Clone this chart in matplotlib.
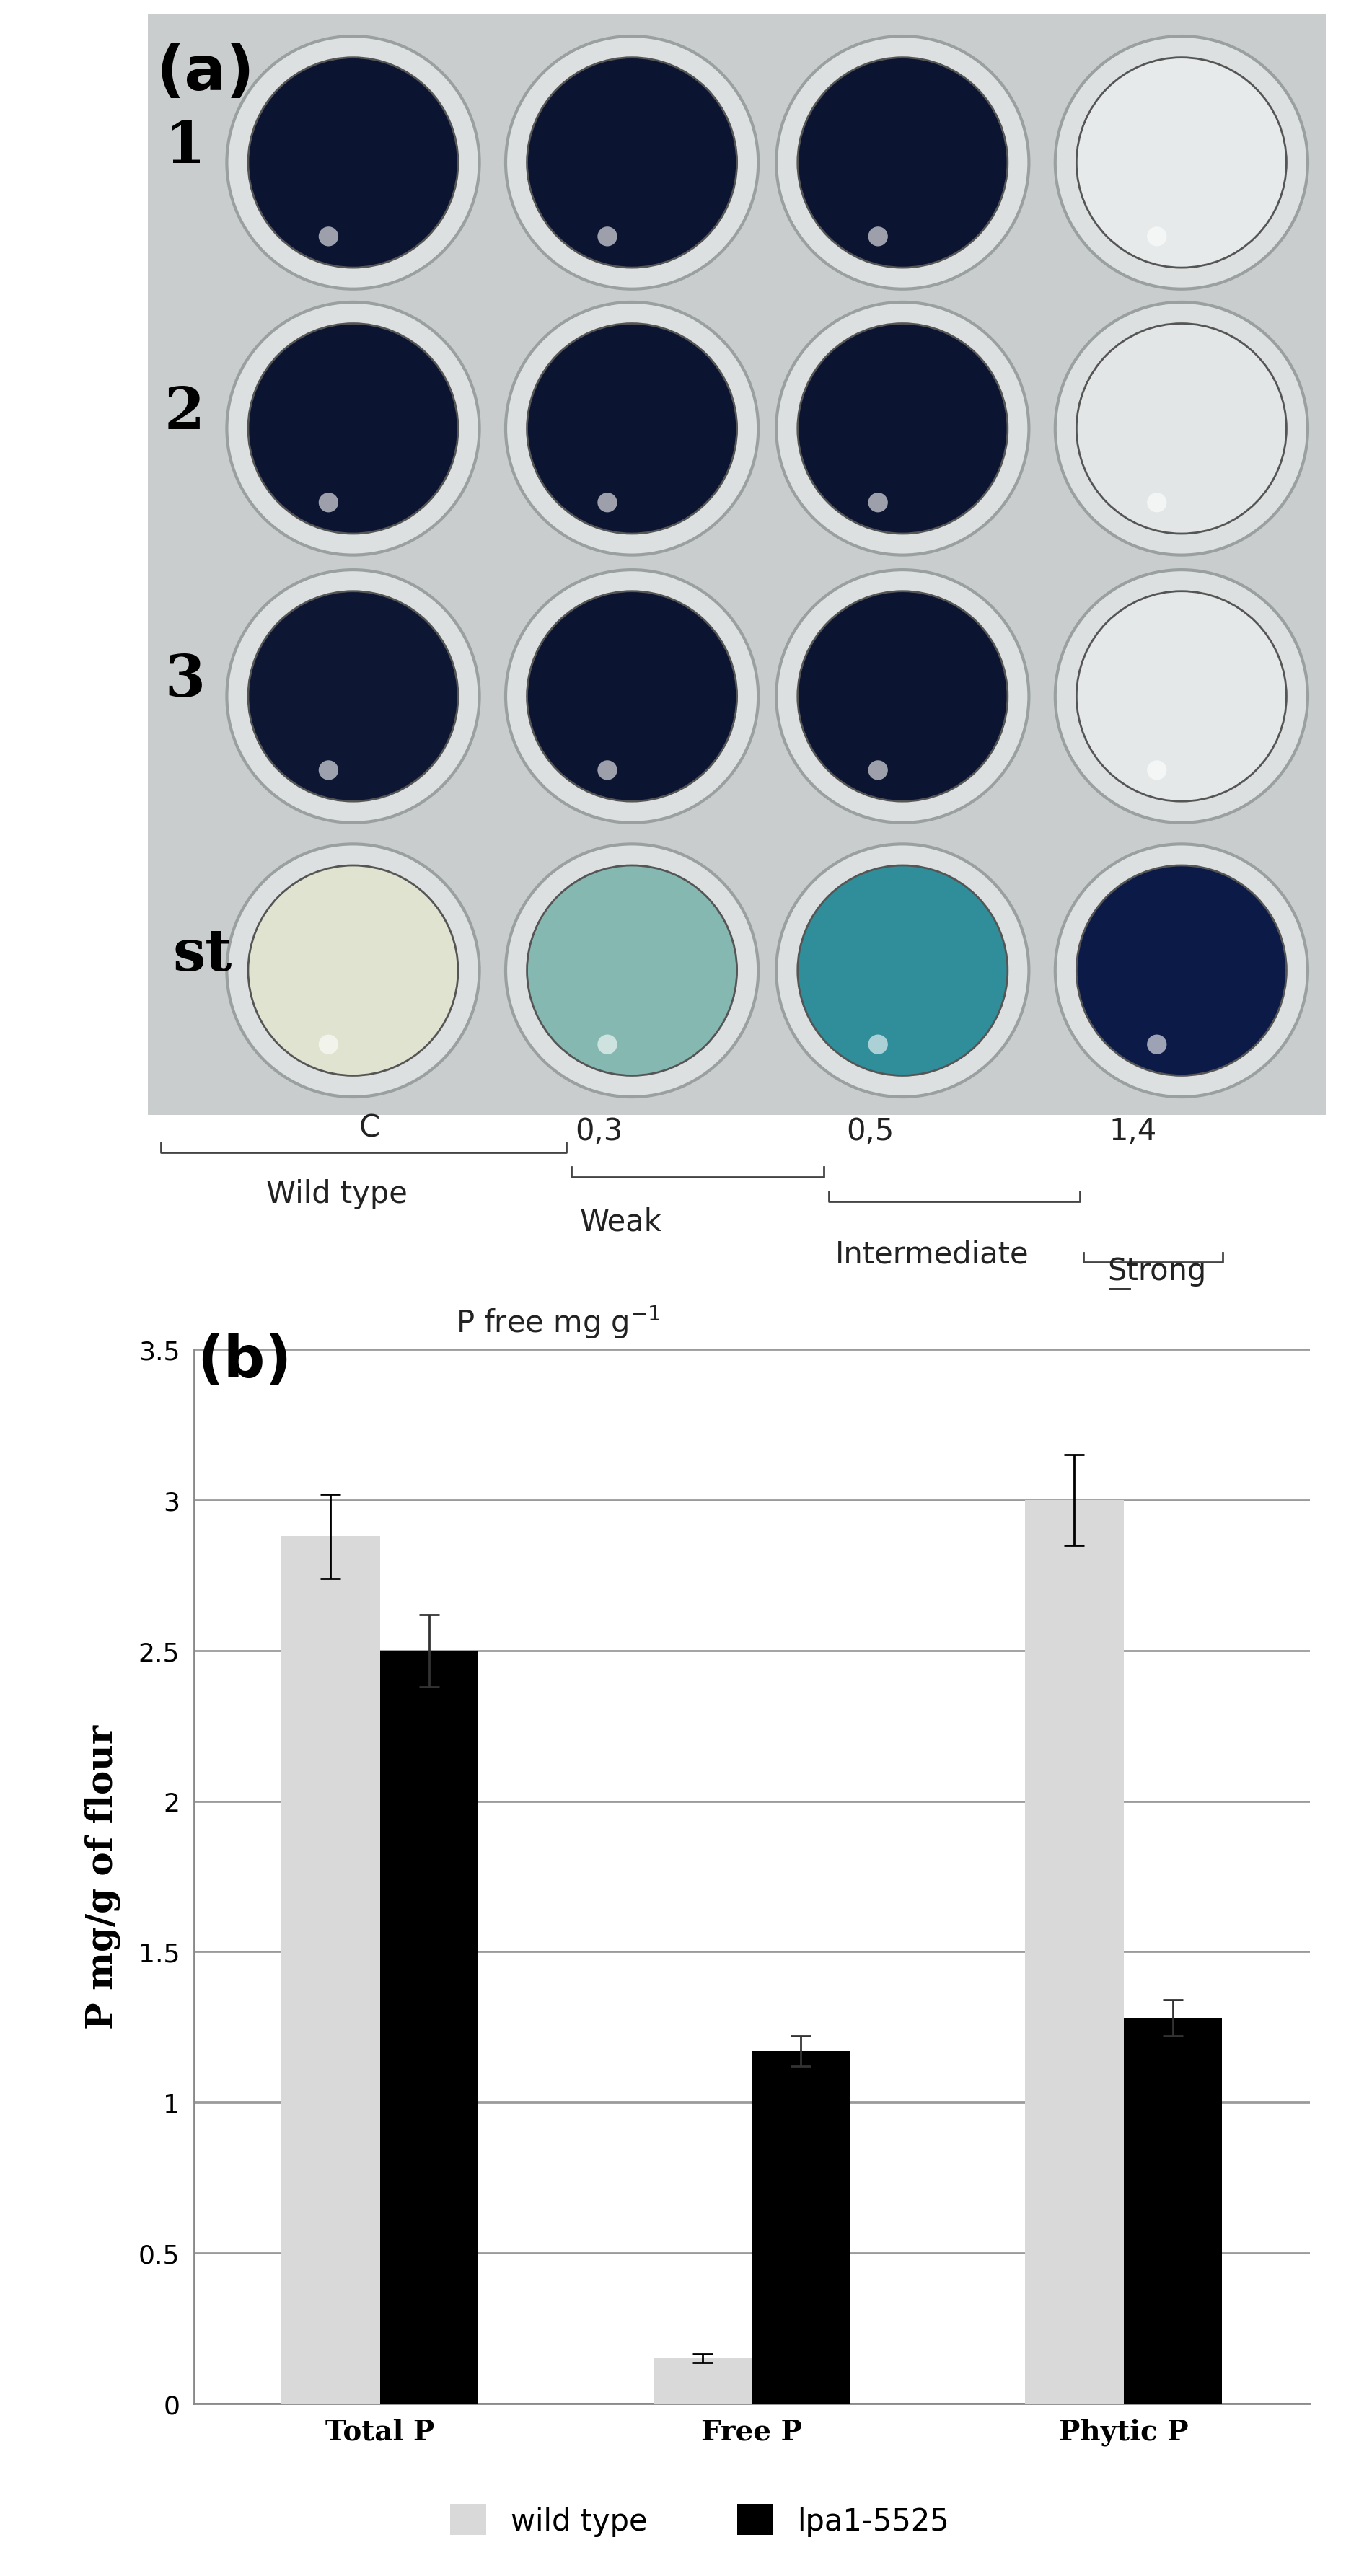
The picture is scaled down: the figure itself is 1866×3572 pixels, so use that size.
import matplotlib
matplotlib.use("Agg")
import matplotlib.pyplot as plt
from matplotlib.patches import Circle, FancyBboxPatch

categories = ["Total P", "Free P", "Phytic P"]
wild_type = [2.88, 0.15, 3.0]
wild_err = [0.14, 0.015, 0.15]
lpa = [2.5, 1.17, 1.28]
lpa_err = [0.12, 0.05, 0.06]
yticks = [0, 0.5, 1, 1.5, 2, 2.5, 3, 3.5]
ytick_labels = ["0", "0.5", "1", "1.5", "2", "2.5", "3", "3.5"]
row_labels = ["1", "2", "3", "st"]
well_colors = [
    ["#0b1430", "#0b1430", "#0b1430", "#e6eaea"],
    ["#0b1430", "#0b1430", "#0b1430", "#e2e6e6"],
    ["#0d1733", "#0b1430", "#0b1430", "#e4e8e8"],
    ["#dfe3cf", "#86b8b2", "#2f8e9a", "#0c1a48"],
]

fig = plt.figure(figsize=(18.66, 35.73), dpi=100)
ov = fig.add_axes([0, 0, 1, 1], zorder=5)
ov.patch.set_alpha(0)
ov.set_xlim(0, 820); ov.set_ylim(1571, 0); ov.axis("off")

# photo panel
pa = fig.add_axes([0.11, 0.567, 0.875, 0.427], zorder=1)
pa.set_xlim(90, 808); pa.set_ylim(680, 10); pa.axis("off")
pa.add_patch(FancyBboxPatch((90, 10), 718, 670, boxstyle="square,pad=0", fc="#c9cdcd", ec="none"))
xs = [215, 385, 550, 720]; ys = [100, 262, 425, 592]
for r in range(4):
    for c in range(4):
        pa.add_patch(Circle((xs[c], ys[r]), 77, fc="#dde0e0", ec="#9aa0a0", lw=3))
        pa.add_patch(Circle((xs[c], ys[r]), 64, fc=well_colors[r][c], ec="#555", lw=2))
        pa.add_patch(Circle((xs[c]-15, ys[r]+45), 6, fc="white", ec="none", alpha=0.6))
    pa.text(100 if r < 3 else 105, ys[r]-10, row_labels[r], fontsize=58, fontweight="bold",
            fontfamily="DejaVu Serif", va="center", ha="left")
pa.text(95, 45, "(a)", fontsize=62, fontweight="bold", va="center", ha="left")

# brackets
def bracket(x0, x1, y):
    ov.plot([x0, x0, x1, x1], [y - 6, y, y, y - 6], color="#444", lw=2)
bracket(98, 345, 703)
bracket(348, 502, 718)
bracket(505, 658, 733)
bracket(660, 745, 770)
fs = 30
for x, y, s in [(225, 688, "C"), (365, 690, "0,3"), (530, 690, "0,5"), (690, 690, "1,4"),
                (205, 728, "Wild type"), (378, 745, "Weak"), (568, 765, "Intermediate"),
                (705, 775, "Strong"), (340, 806, "P free mg g$^{-1}$")]:
    ov.text(x, y, s, fontsize=fs, ha="center", va="center", color="#222")
ov.plot([676, 688], [786, 786], color="#222", lw=2)
ov.text(120, 830, "(b)", fontsize=58, fontweight="bold", ha="left", va="center")

# bar chart
ax = fig.add_axes([0.144, 0.067, 0.829, 0.409], zorder=1)
ax.patch.set_alpha(0)
x = list(range(len(categories)))
w = 0.265
ax.bar([i - w/2 for i in x], wild_type, w, color="#d9d9d9", yerr=wild_err,
       error_kw=dict(capsize=10, elinewidth=2, capthick=2), label="wild type", zorder=3)
ax.bar([i + w/2 for i in x], lpa, w, color="black", yerr=lpa_err,
       error_kw=dict(capsize=10, elinewidth=2, capthick=2, ecolor="#333"), label="lpa1-5525", zorder=3)
ax.set_xlim(-0.5, 2.5); ax.set_ylim(0, 3.5)
ax.set_yticks(yticks); ax.set_yticklabels(ytick_labels, fontsize=26)
ax.set_xticks(x); ax.set_xticklabels(categories, fontsize=28, fontweight="bold", fontfamily="DejaVu Serif")
ax.yaxis.grid(True, color="#9a9a9a", lw=2, zorder=0)
for s in ["top", "right"]:
    ax.spines[s].set_visible(False)
ax.spines["left"].set_color("#888"); ax.spines["bottom"].set_color("#888")
ax.spines["left"].set_linewidth(2); ax.spines["bottom"].set_linewidth(2)
ax.tick_params(length=0, pad=14)
ax.set_ylabel("P mg/g of flour", fontsize=36, fontweight="bold", fontfamily="DejaVu Serif", labelpad=18)
fig.legend(loc="lower center", bbox_to_anchor=(0.52, 0.005), ncol=2, fontsize=30, frameon=False,
           handlelength=1.2, handleheight=1.2, columnspacing=3)
fig.savefig("out.png", dpi=100)
